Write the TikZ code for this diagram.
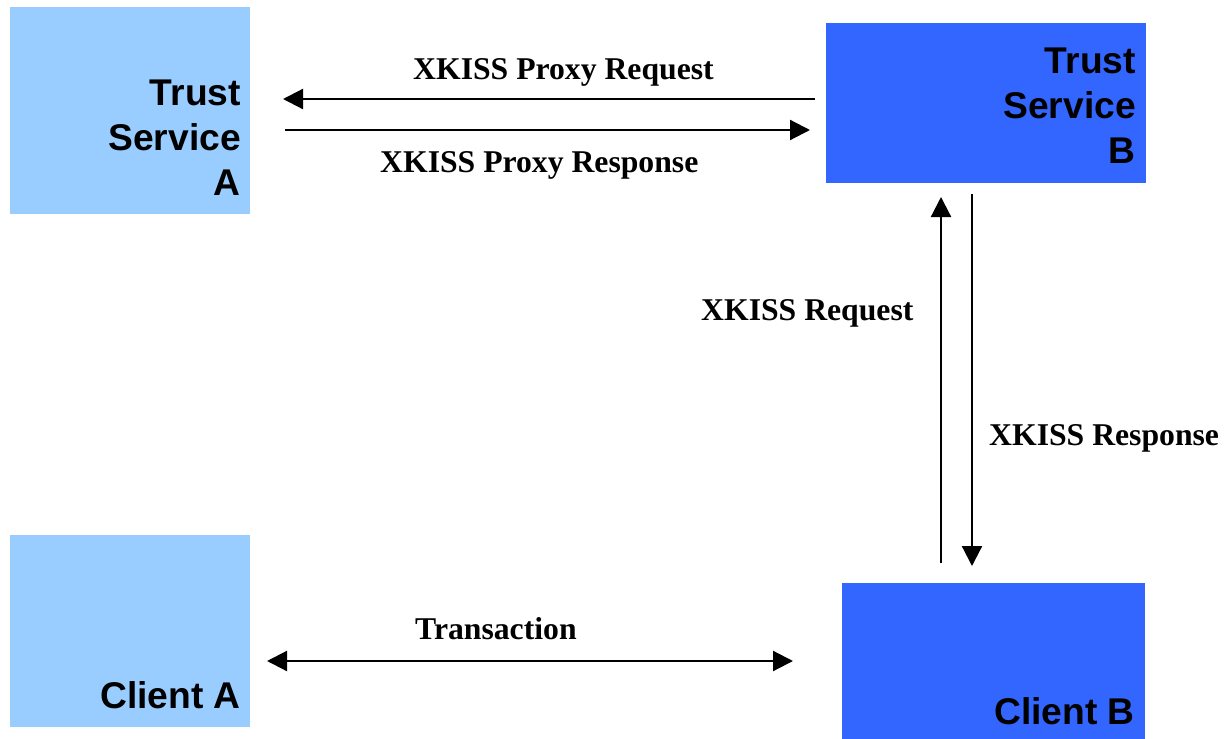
\documentclass[tikz,border=0pt]{standalone}
\usepackage{fontspec}
\setmainfont{Liberation Serif}
\newfontfamily\boxfont{Liberation Sans}
\usetikzlibrary{arrows.meta}
\definecolor{lightblue}{HTML}{99CCFF}
\definecolor{darkblue}{HTML}{3366FF}
\begin{document}
\begin{tikzpicture}[x=1pt,y=-1pt,
  box/.style={draw=none,inner sep=0pt,outer sep=0pt,anchor=north west},
  lightbox/.style={box,fill=lightblue},
  darkbox/.style={box,fill=darkblue},
  boxtext/.style={font=\boxfont\bfseries\fontsize{37.2}{45}\selectfont,inner sep=0pt,align=right},
  lbl/.style={font=\bfseries\fontsize{31.7}{38}\selectfont,inner sep=0pt,anchor=base west},
  arr/.style={line width=2.2pt,-{Triangle[length=20pt,width=20pt]}},
  dblarr/.style={line width=2.2pt,{Triangle[length=20pt,width=20pt]}-{Triangle[length=20pt,width=20pt]}}]
\useasboundingbox (0,0) rectangle (1224,739);

% boxes
\node[lightbox,minimum width=240pt,minimum height=207pt] (tsa) at (10,7) {};
\node[darkbox,minimum width=320pt,minimum height=160pt] (tsb) at (826,23) {};
\node[lightbox,minimum width=240pt,minimum height=192pt] (ca) at (10,535) {};
\node[darkbox,minimum width=303pt,minimum height=156pt] (cb) at (842,583) {};

% box texts
\node[boxtext,anchor=north east] (tsatext) at (241,80) {Trust\\Service\\A};
\node[boxtext,anchor=north east] (tsbtext) at (1136,48) {Trust\\Service\\B};
\node[boxtext,anchor=base east] (catext) at (241,708) {Client A};
\node[boxtext,anchor=base east] (cbtext) at (1135,724) {Client B};

% connectors
\draw[arr] ([shift={(-11,-4)}]tsb.west) -- ([shift={(33,-11.5)}]tsa.east);
\draw[arr] ([shift={(35,19.5)}]tsa.east) -- ([shift={(-16,27)}]tsb.west);
\draw[arr] ([shift={(-52.5,-20)}]cb.north) -- ([shift={(-45,14)}]tsb.south);
\draw[arr] ([shift={(-14,11)}]tsb.south) -- ([shift={(-21.5,-17)}]cb.north);
\draw[dblarr] ([shift={(17,30)}]ca.east) -- ([shift={(-49,0)}]cb.west);

% labels
\node[lbl] (lpreq) at (413,79) {XKISS Proxy Request};
\node[lbl] (lpresp) at (380,172) {XKISS Proxy Response};
\node[lbl] (lreq) at (701,320) {XKISS Request};
\node[lbl] (lresp) at (989,445) {XKISS Response};
\node[lbl] (ltrans) at (415,639) {Transaction};
\end{tikzpicture}
\end{document}
